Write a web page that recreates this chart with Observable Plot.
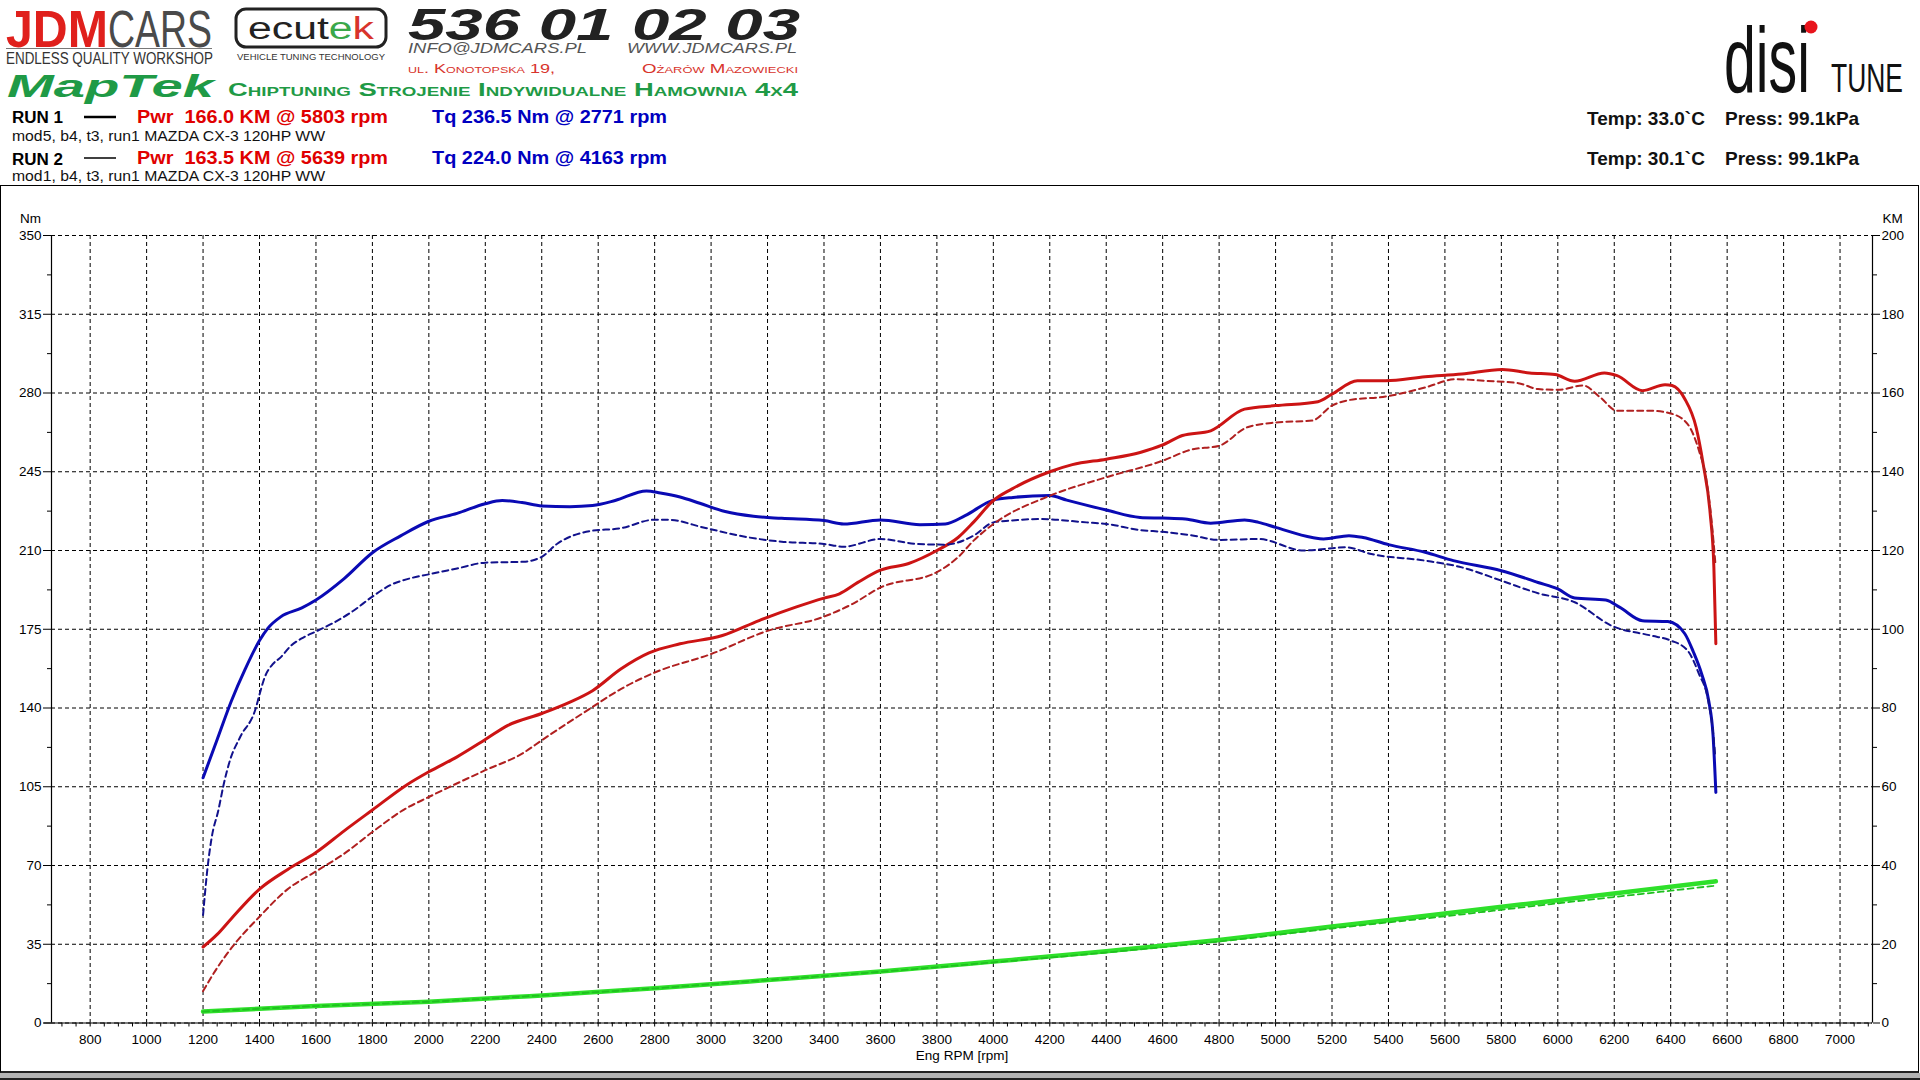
<!DOCTYPE html>
<html>
<head>
<meta charset="utf-8">
<script src="https://cdn.jsdelivr.net/npm/d3@7"></script>
<script src="https://cdn.jsdelivr.net/npm/@observablehq/plot@0.6"></script>
<style>
  body { margin: 0; width: 1920px; height: 1080px; overflow: hidden; background: #fff;
         font-family: "Liberation Sans", Arial, sans-serif; }
  #header { position: absolute; left: 0; top: 0; }
  #chart { position: absolute; left: 0; top: 186px; width: 1920px; height: 886px; }
  #box { position: absolute; left: 0; top: 185px; width: 1919px; height: 888px; box-sizing: border-box;
         border: 1px solid #000; border-bottom: 2px solid #222; pointer-events: none; }
  #bottom { position: absolute; left: 0; top: 1073px; width: 1920px; height: 7px; background: #b4b4b4;
            border-bottom: 2px solid #222; box-sizing: border-box; }
</style>
</head>
<body>

<svg id="header" width="1920" height="186" font-family="Liberation Sans, Arial, sans-serif">
  <!-- JDMCARS logo -->
  <text x="6" y="47" font-size="52" font-weight="bold" fill="#e0201c" textLength="102" lengthAdjust="spacingAndGlyphs">JDM</text>
  <text x="108" y="47" font-size="52" fill="#4a4a4a" textLength="104" lengthAdjust="spacingAndGlyphs">CARS</text>
  <line x1="6" x2="212" y1="48.5" y2="48.5" stroke="#777" stroke-width="1"/>
  <text x="6" y="64" font-size="16" fill="#333" textLength="207" lengthAdjust="spacingAndGlyphs">ENDLESS QUALITY WORKSHOP</text>

  <!-- ecutek logo -->
  <rect x="236" y="9" width="150" height="38" rx="10" fill="none" stroke="#222" stroke-width="3"/>
  <text x="248" y="39" font-size="31" fill="#222" textLength="126" lengthAdjust="spacingAndGlyphs">ecut<tspan fill="#3aa84a">e</tspan><tspan fill="#d8342c">k</tspan></text>
  <text x="237" y="60" font-size="9" fill="#333" textLength="148" lengthAdjust="spacingAndGlyphs">VEHICLE TUNING TECHNOLOGY</text>

  <!-- phone / contact -->
  <text x="408" y="40" font-size="44" font-weight="bold" font-style="italic" fill="#222" textLength="392" lengthAdjust="spacingAndGlyphs">536 01 02 03</text>
  <text x="408" y="53" font-size="14" font-style="italic" fill="#555" textLength="179" lengthAdjust="spacingAndGlyphs">INFO@JDMCARS.PL</text>
  <text x="627" y="53" font-size="14" font-style="italic" fill="#555" textLength="170" lengthAdjust="spacingAndGlyphs">WWW.JDMCARS.PL</text>
  <text x="408" y="73" font-size="13" font-variant="small-caps" fill="#d8342c" textLength="147" lengthAdjust="spacingAndGlyphs">ul. Konotopska 19,</text>
  <text x="642" y="73" font-size="13" font-variant="small-caps" fill="#d8342c" textLength="156" lengthAdjust="spacingAndGlyphs">Ożarów Mazowiecki</text>

  <!-- MapTek line -->
  <text x="7" y="97" font-size="32" font-weight="bold" font-style="italic" fill="#1f9a46" textLength="207" lengthAdjust="spacingAndGlyphs">MapTek</text>
  <text x="228" y="96" font-size="19" font-weight="bold" font-variant="small-caps" fill="#1f9a46" textLength="570" lengthAdjust="spacingAndGlyphs">Chiptuning Strojenie Indywidualne Hamownia 4x4</text>

  <!-- disi TUNE logo (tall condensed lettering) -->
  <text transform="translate(1724,92) scale(1,1.586)" font-size="58" fill="#111" textLength="86" lengthAdjust="spacingAndGlyphs">disi</text>
  <circle cx="1811" cy="27" r="6.5" fill="#e8141c"/>
  <text transform="translate(1831,92) scale(1,1.48)" font-size="27" fill="#111" textLength="72" lengthAdjust="spacingAndGlyphs">TUNE</text>

  <!-- run legend -->
  <text x="12" y="122.5" font-size="16" font-weight="bold" fill="#000" textLength="51" lengthAdjust="spacingAndGlyphs">RUN 1</text>
  <line x1="84" x2="116" y1="117" y2="117" stroke="#000" stroke-width="2.5"/>
  <text x="137" y="122.5" font-size="18" font-weight="bold" fill="#e00000" xml:space="preserve" textLength="251" lengthAdjust="spacingAndGlyphs">Pwr  166.0 KM @ 5803 rpm</text>
  <text x="432" y="122.5" font-size="18" font-weight="bold" fill="#0000c0" textLength="235" lengthAdjust="spacingAndGlyphs">Tq 236.5 Nm @ 2771 rpm</text>
  <text x="12" y="140.5" font-size="14.5" fill="#111" textLength="313" lengthAdjust="spacingAndGlyphs">mod5, b4, t3, run1 MAZDA CX-3 120HP WW</text>

  <text x="12" y="164.5" font-size="16" font-weight="bold" fill="#000" textLength="51" lengthAdjust="spacingAndGlyphs">RUN 2</text>
  <line x1="84" x2="116" y1="158" y2="158" stroke="#000" stroke-width="1.5"/>
  <text x="137" y="164" font-size="18" font-weight="bold" fill="#e00000" xml:space="preserve" textLength="251" lengthAdjust="spacingAndGlyphs">Pwr  163.5 KM @ 5639 rpm</text>
  <text x="432" y="164" font-size="18" font-weight="bold" fill="#0000c0" textLength="235" lengthAdjust="spacingAndGlyphs">Tq 224.0 Nm @ 4163 rpm</text>
  <text x="12" y="180.5" font-size="14.5" fill="#111" textLength="313" lengthAdjust="spacingAndGlyphs">mod1, b4, t3, run1 MAZDA CX-3 120HP WW</text>

  <text x="1587" y="125" font-size="19" font-weight="bold" fill="#111">Temp: 33.0`C</text>
  <text x="1725" y="125" font-size="19" font-weight="bold" fill="#111">Press: 99.1kPa</text>
  <text x="1587" y="165" font-size="19" font-weight="bold" fill="#111">Temp: 30.1`C</text>
  <text x="1725" y="165" font-size="19" font-weight="bold" fill="#111">Press: 99.1kPa</text>
</svg>

<div id="chart"></div>
<div id="box"></div>
<div id="bottom"></div>

<script>
// ---- data ----
// torque (Nm), run 1 solid / run 2 dashed
const tqRun1Rpm = [1200,1250,1300,1350,1400,1430,1475,1550,1600,1700,1800,1900,2000,2100,2200,2260,2330,2400,2500,2580,2660,2771,2820,2890,2960,3050,3150,3250,3400,3470,3600,3740,3830,3900,4000,4070,4200,4260,4400,4520,4600,4680,4770,4890,4940,5000,5130,5170,5260,5310,5400,5530,5630,5800,5930,6000,6060,6170,6220,6300,6390,6450,6480,6510,6535,6550,6560]
const tqRun1 = [109,126,143,157.5,170,175.5,180.5,184.5,188,197.5,209,216.5,223,226.5,230.8,232.2,231.3,229.8,229.5,230,232.2,236.5,235.6,233.8,231,227.3,225.2,224.3,223.3,221.8,223.6,221.5,221.8,225.5,232.4,233.6,234.4,232.4,228,224.7,224.4,224,222.1,223.6,222.5,220.3,215.8,215.1,216.6,215.8,212.6,209.2,205.5,201,195.8,192.9,188.9,188,184.7,178.8,178.4,173,165,155,143,128,102.5]

const tqRun2Rpm = [1200,1215,1230,1255,1273,1296,1331,1387,1400,1418,1447,1475,1510,1558,1600,1660,1730,1800,1865,1930,2000,2100,2200,2335,2400,2455,2570,2680,2800,2845,2980,3120,3250,3400,3470,3600,3730,3830,3930,4000,4060,4163,4330,4400,4520,4600,4700,4800,4940,5100,5250,5340,5530,5660,5800,5930,6060,6190,6330,6400,6460,6500,6533,6553,6558]
const tqRun2 = [48,68,82,95,106,117,127,140,146,153.5,159.5,162.5,167.5,171.5,174,177.7,183,189.5,194.7,197.5,199.4,202,204.6,205,207.2,213,218.6,219.9,223.7,223.7,220,216.1,213.9,212.9,211.7,215.1,212.9,212.6,216.6,222.5,223.3,224,222.5,221.8,219.1,218.3,216.8,214.7,215.1,210,211.4,208.4,205.5,202.5,196.6,191,187,176.6,172.2,170,165.5,155.2,143.3,125.5,118]

// power (KM), right axis
const pwrRun1Rpm = [1200,1250,1300,1400,1500,1600,1700,1800,1920,2000,2100,2200,2280,2400,2500,2580,2680,2780,2890,3040,3170,3300,3400,3455,3520,3600,3700,3800,3875,3930,4000,4065,4200,4280,4400,4520,4600,4670,4770,4890,5000,5150,5200,5290,5390,5530,5660,5803,5900,5990,6060,6165,6210,6300,6380,6405,6450,6490,6515,6540,6553,6560]
const pwrRun1 = [19.3,22.5,26.5,34,39,43.3,48.8,54.1,60.4,63.8,67.6,72,75.6,78.6,81.5,84.4,89.9,94,96.3,98.4,102.2,105.6,107.9,109,111.9,115,116.7,120,123.3,127.2,132.7,135.6,140,141.8,143.2,144.9,146.8,149.2,150.4,155.9,156.8,157.8,159.7,163.1,163.1,164.1,164.8,166,165.1,164.7,163,165.1,164.4,160.6,162.1,161.9,158.5,151.3,142,129.3,115.7,96.3]

const pwrRun2Rpm = [1200,1250,1300,1400,1500,1600,1700,1800,1912,2000,2200,2335,2400,2570,2680,2800,3000,3200,3400,3500,3600,3800,3875,3930,4000,4200,4400,4600,4700,4800,4900,5000,5130,5200,5260,5390,5530,5639,5740,5860,5930,6000,6090,6150,6210,6330,6400,6460,6500,6527,6547,6558]
const pwrRun2 = [8.1,14,19,27,34,38.5,43,48.5,54.2,57.4,64.2,68.6,71.8,79.8,84.8,89,93.7,99.6,103.2,106.4,110.6,114.5,118.3,122.5,126.7,133.9,138.6,142.8,145.6,146.6,151.3,152.5,153,156.8,158.2,159.1,161.4,163.5,163.1,162.5,161,160.8,161.9,158.9,155.5,155.5,154.8,152.1,145.4,137.7,125.9,117]

// green trace (KM scale)
const greenRpm = [1200,1600,2000,2400,2800,3200,3600,4000,4400,4800,5200,5600,6000,6400,6560]
const greenRun1 = [2.9,4.3,5.4,7.0,8.8,10.9,13.1,15.6,18.2,21.1,24.5,27.8,31.2,34.6,36.0]
const greenRun2 = [2.9,4.3,5.4,7.0,8.8,10.9,13.0,15.4,17.9,20.7,24.0,27.1,30.4,33.6,34.9]

// ticks
const rpmTicks = [800,1000,1200,1400,1600,1800,2000,2200,2400,2600,2800,3000,3200,3400,3600,3800,4000,4200,4400,4600,4800,5000,5200,5400,5600,5800,6000,6200,6400,6600,6800,7000]
const rpmMinor = d3.range(700, 7101, 50)
const nmTicks = [0,35,70,105,140,175,210,245,280,315,350]
const nmMinor = [17.5,52.5,87.5,122.5,157.5,192.5,227.5,262.5,297.5,332.5]

const KM_TO_NM = 350 / 200  // right axis 0..200 KM on the same height as 0..350 Nm
const km = arr => arr.map(v => v * KM_TO_NM)

const dash = '6,4'
const grid = {stroke: '#000', strokeOpacity: 1, strokeWidth: 1, strokeDasharray: '4,3'}
const FS = 13.5

const chart = Plot.plot({
  width: 1920,
  height: 886,
  marginTop: 49,
  marginBottom: 49.5,
  marginLeft: 51,
  marginRight: 48,
  x: {domain: [663, 7115]},
  y: {domain: [0, 350]},
  style: {fontFamily: 'Liberation Sans, Arial, sans-serif', fontSize: '13.5px', color: '#000', background: 'transparent'},
  marks: [
    Plot.gridX(rpmTicks, grid),
    Plot.gridY(nmTicks, grid),

    // axis lines
    Plot.ruleX([663], {y1: 0, y2: 350, stroke: '#000', strokeWidth: 1.2}),
    Plot.ruleX([7115], {y1: 0, y2: 350, stroke: '#000', strokeWidth: 1.2}),
    Plot.ruleY([0], {x1: 637, x2: 7115, stroke: '#000', strokeWidth: 1.2}),

    // green traces
    Plot.line(greenRun1, {x: greenRpm, y: km(greenRun1), stroke: '#2ee02a', strokeWidth: 4.5, curve: 'monotone-x'}),
    Plot.line(greenRun2, {x: greenRpm, y: km(greenRun2), stroke: '#1fc01f', strokeWidth: 1.8, strokeDasharray: dash, curve: 'monotone-x'}),

    // run 1 solid
    Plot.line(tqRun1, {x: tqRun1Rpm, y: tqRun1, stroke: '#0a0ab4', strokeWidth: 3, curve: 'monotone-x'}),
    Plot.line(pwrRun1, {x: pwrRun1Rpm, y: km(pwrRun1), stroke: '#cc1414', strokeWidth: 3, curve: 'monotone-x'}),

    // run 2 dashed
    Plot.line(tqRun2, {x: tqRun2Rpm, y: tqRun2, stroke: '#12128c', strokeWidth: 2, strokeDasharray: dash, curve: 'monotone-x'}),
    Plot.line(pwrRun2, {x: pwrRun2Rpm, y: km(pwrRun2), stroke: '#b02020', strokeWidth: 2, strokeDasharray: dash, curve: 'monotone-x'}),

    // axes
    Plot.axisX(rpmMinor, {tickSize: 4, tickFormat: () => '', label: null}),
    Plot.axisX(rpmTicks, {tickSize: 0, tickPadding: 11, tickFormat: d => String(d), fontSize: FS, label: null}),
    Plot.axisY(nmTicks, {anchor: 'left', tickSize: 8, tickPadding: 2, tickFormat: d => String(d), fontSize: FS, label: null}),
    Plot.axisY(nmMinor, {anchor: 'left', tickSize: 4, tickFormat: () => '', label: null}),
    Plot.axisY(nmTicks, {anchor: 'right', tickSize: 7, tickPadding: 2, tickFormat: d => String(d / KM_TO_NM), fontSize: FS, label: null}),
    Plot.axisY(nmMinor, {anchor: 'right', tickSize: 4, tickFormat: () => '', label: null}),

    Plot.text(['Nm'], {frameAnchor: 'top-left', dx: -21, dy: -17, textAnchor: 'middle', lineAnchor: 'middle', fontSize: FS}),
    Plot.text(['KM'], {frameAnchor: 'top-right', dx: 20, dy: -17, textAnchor: 'middle', lineAnchor: 'middle', fontSize: FS}),
    Plot.text(['Eng RPM [rpm]'], {frameAnchor: 'bottom', dy: 32.5, textAnchor: 'middle', lineAnchor: 'middle', fontSize: FS}),
  ],
})

d3.select('#chart').append(() => chart)
</script>
</body>
</html>
